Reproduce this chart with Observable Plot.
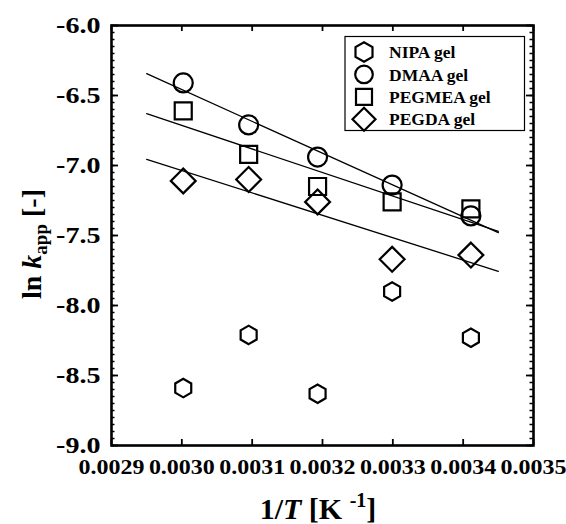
<!DOCTYPE html>
<html>
<head>
<meta charset="utf-8">
<script src="https://cdn.jsdelivr.net/npm/d3@7"></script>
<script src="https://cdn.jsdelivr.net/npm/@observablehq/plot@0.6"></script>
<style>
  body { margin: 0; background: #fff; }
  #chart svg { display: block; }
  #chart svg text { font-family: "Liberation Serif", "Times New Roman", serif !important; font-weight: bold !important; font-variant: normal !important; }
</style>
</head>
<body>
<div id="chart"></div>
<script>
// Reciprocal temperature (60, 50, 40, 30, 20 °C) and apparent rate constants
const invT   = [0.003002, 0.003095, 0.003193, 0.003299, 0.003411];
const nipa   = [-8.59, -8.21, -8.63, -7.90, -8.23];
const dmaa   = [-6.41, -6.71, -6.94, -7.14, -7.36];
const pegmea = [-6.61, -6.92, -7.15, -7.26, -7.31];
const pegda  = [-7.11, -7.10, -7.26, -7.67, -7.64];

const seriesNames = ["NIPA gel", "DMAA gel", "PEGMEA gel", "PEGDA gel"];
const xTicks = [0.0029, 0.0030, 0.0031, 0.0032, 0.0033, 0.0034, 0.0035];
const yTicks = [-9.0, -8.5, -8.0, -7.5, -7.0, -6.5, -6.0];
const yMinorTicks = d3.ticks(-9, -6, 60);
// x extent over which the Arrhenius fits are drawn
const fitRange = [0.00295, 0.00345];

const FONT = "Liberation Serif, Times New Roman, serif";

// frame geometry
const W = 566, H = 524;
const M = {left: 111, right: 33, top: 25, bottom: 79};
const innerW = W - M.left - M.right;
const innerH = H - M.top - M.bottom;

// marker look per series
const markerStyle = {
  "NIPA gel":   {symbol: "hexagon",  r: 8},
  "DMAA gel":   {symbol: "circle",   r: 9.5},
  "PEGMEA gel": {symbol: "square",   r: 9.6},
  "PEGDA gel":  {symbol: "diamond2", r: 11.2}
};

const seriesValues = {"NIPA gel": nipa, "DMAA gel": dmaa, "PEGMEA gel": pegmea, "PEGDA gel": pegda};
const points = seriesNames.flatMap(s => invT.map((x, i) => ({series: s, x, y: seriesValues[s][i]})));

// least-squares line of ln k vs 1/T
function fit(name) {
  const ys = seriesValues[name];
  const mx = d3.mean(invT), my = d3.mean(ys);
  const sxy = d3.sum(invT, (x, i) => (x - mx) * (ys[i] - my));
  const sxx = d3.sum(invT, x => (x - mx) ** 2);
  const b = sxy / sxx, a = my - b * mx;
  return fitRange.map(x => ({series: name, x, y: a + b * x}));
}
const fitted = ["DMAA gel", "PEGMEA gel", "PEGDA gel"].flatMap(fit);

const tickLine = {stroke: "black"};

const chart = Plot.plot({
  width: W,
  height: H,
  marginLeft: M.left,
  marginRight: M.right,
  marginTop: M.top,
  marginBottom: M.bottom,
  x: {domain: [0.0029, 0.0035]},
  y: {domain: [-9, -6]},
  style: {fontFamily: FONT, background: "white", color: "black"},
  marks: [
    // tick labels
    Plot.axisX(xTicks, {anchor: "bottom", tickSize: 0, tickPadding: 13, tickFormat: d => d.toFixed(4),
      fontSize: 22, fill: "black", label: null}),
    Plot.axisY(yTicks, {anchor: "left", tickSize: 0, tickPadding: 11, tickFormat: d => d.toFixed(1),
      fontSize: 23, fill: "black", label: null}),
    // inward ticks: bottom/top major, left/right major and minor
    Plot.tickX(xTicks, {x: d => d, insetTop: innerH - 6, strokeWidth: 1.8, ...tickLine}),
    Plot.tickX(xTicks, {x: d => d, insetBottom: innerH - 6, strokeWidth: 1.8, ...tickLine}),
    Plot.tickY(yTicks, {y: d => d, insetRight: innerW - 7, strokeWidth: 1.8, ...tickLine}),
    Plot.tickY(yTicks, {y: d => d, insetLeft: innerW - 7, strokeWidth: 1.8, ...tickLine}),
    Plot.tickY(yMinorTicks, {y: d => d, insetRight: innerW - 3.5, strokeWidth: 1.5, ...tickLine}),
    Plot.tickY(yMinorTicks, {y: d => d, insetLeft: innerW - 3.5, strokeWidth: 1.5, ...tickLine}),
    Plot.frame({stroke: "black", strokeWidth: 2.6}),
    // fitted lines
    Plot.line(fitted, {x: "x", y: "y", z: "series", stroke: "black", strokeWidth: 1.3}),
    // data points
    ...seriesNames.map(s => Plot.dot(points.filter(d => d.series === s), {
      x: "x", y: "y",
      symbol: markerStyle[s].symbol,
      r: markerStyle[s].r,
      stroke: "black", strokeWidth: 2.2, fill: "none"
    }))
  ]
});

document.getElementById("chart").appendChild(chart);

const svg = d3.select(chart);

// widen tick labels horizontally about their anchor point
function widen(selection, sx) {
  selection.each(function() {
    const t = d3.select(this);
    const tr = t.attr("transform");
    if (tr) t.attr("transform", `${tr} scale(${sx},1)`);
  });
}
widen(svg.selectAll("g[aria-label='x-axis tick label'] text"), 1.09);
widen(svg.selectAll("g[aria-label='y-axis tick label'] text"), 1.22);

// axis titles with italic symbols and sub/superscripts
const ylab = svg.append("text")
  .attr("transform", "translate(41,244) rotate(-90)")
  .attr("text-anchor", "middle")
  .attr("font-size", 28)
  .attr("fill", "black");
ylab.append("tspan").text("ln ");
ylab.append("tspan").attr("font-style", "italic").text("k");
ylab.append("tspan").attr("font-size", 19).attr("dy", 6).text("app");
ylab.append("tspan").attr("dy", -6).text(" [-]");

const xlab = svg.append("text")
  .attr("x", 318).attr("y", 519)
  .attr("text-anchor", "middle")
  .attr("font-size", 30)
  .attr("fill", "black");
xlab.append("tspan").text("1/");
xlab.append("tspan").attr("font-style", "italic").text("T");
xlab.append("tspan").text(" [K ");
xlab.append("tspan").attr("font-size", 20).attr("dy", -12).text("-1");
xlab.append("tspan").attr("dy", 12).text("]");

// legend
const sqrt3 = Math.sqrt(3);
const legendShapes = {
  "NIPA gel": (r) => { const rx = r, ry = r * 2 / sqrt3, hy = ry / 2;
    return `M0,${ry}L${rx},${hy}L${rx},${-hy}L0,${-ry}L${-rx},${-hy}L${-rx},${hy}Z`; },
  "DMAA gel": (r) => `M${r},0A${r},${r},0,1,1,${-r},0A${r},${r},0,1,1,${r},0Z`,
  "PEGMEA gel": (r) => `M${-r},${-r}H${r}V${r}H${-r}Z`,
  "PEGDA gel": (r) => `M0,${-r}L${r},0L0,${r}L${-r},0Z`
};
const legendSize = {"NIPA gel": 8.5, "DMAA gel": 8.8, "PEGMEA gel": 8, "PEGDA gel": 11.5};
const lg = svg.append("g").attr("transform", "translate(345,36.5)");
lg.append("rect").attr("width", 179.5).attr("height", 94)
  .attr("fill", "white").attr("stroke", "black").attr("stroke-width", 1.2);
seriesNames.forEach((s, i) => {
  const cy = 15.5 + i * 22.4;
  lg.append("path").attr("transform", `translate(19,${cy})`)
    .attr("d", legendShapes[s](legendSize[s]))
    .attr("fill", "none").attr("stroke", "black").attr("stroke-width", 2.2);
  lg.append("text").attr("x", 44).attr("y", cy).attr("dy", "0.35em")
    .attr("text-anchor", "start")
    .attr("font-size", 17.5)
    .attr("fill", "black").text(s);
});
</script>
</body>
</html>
